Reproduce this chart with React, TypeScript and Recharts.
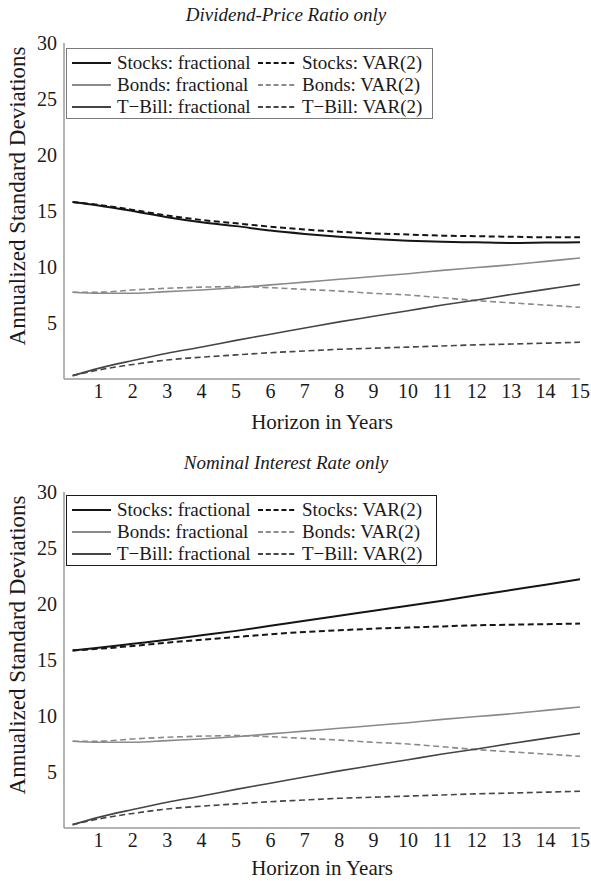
import React from 'react';
import { LineChart, Line, XAxis, YAxis, Label } from 'recharts';

const horizons = [0.25, 1, 2, 3, 4, 5, 6, 7, 8, 9, 10, 11, 12, 13, 14, 15];
const xTicks = [1, 2, 3, 4, 5, 6, 7, 8, 9, 10, 11, 12, 13, 14, 15];
const yTicks = [5, 10, 15, 20, 25, 30];

// Panel 1: Dividend-Price Ratio only
const dpStocksFrac = [15.8, 15.5, 15.0, 14.45, 14.0, 13.65, 13.25, 12.95, 12.7, 12.5, 12.35, 12.25, 12.2, 12.15, 12.18, 12.2];
const dpStocksVar = [15.8, 15.55, 15.1, 14.6, 14.2, 13.9, 13.6, 13.35, 13.15, 13.0, 12.9, 12.8, 12.75, 12.7, 12.65, 12.65];
// Panel 2: Nominal Interest Rate only
const nirStocksFrac = [15.85, 16.1, 16.45, 16.8, 17.2, 17.6, 18.05, 18.5, 18.95, 19.4, 19.85, 20.3, 20.78, 21.25, 21.72, 22.2];
const nirStocksVar = [15.85, 16.0, 16.25, 16.55, 16.8, 17.05, 17.3, 17.5, 17.65, 17.8, 17.9, 18.0, 18.1, 18.15, 18.2, 18.25];
// Shared (identical in both panels)
const bondsFrac = [7.75, 7.65, 7.65, 7.8, 7.95, 8.15, 8.4, 8.65, 8.9, 9.15, 9.4, 9.7, 9.95, 10.2, 10.5, 10.8];
const bondsVar = [7.75, 7.75, 7.95, 8.1, 8.2, 8.25, 8.15, 8.0, 7.85, 7.65, 7.5, 7.25, 7.0, 6.8, 6.6, 6.4];
const tbillFrac = [0.3, 0.95, 1.65, 2.3, 2.85, 3.45, 4.0, 4.55, 5.1, 5.6, 6.1, 6.6, 7.05, 7.55, 8.0, 8.45];
const tbillVar = [0.3, 0.8, 1.3, 1.7, 1.95, 2.15, 2.35, 2.5, 2.65, 2.75, 2.85, 2.95, 3.05, 3.12, 3.2, 3.28];

const seriesNames = {
  sf: 'Stocks: fractional',
  sv: 'Stocks: VAR(2)',
  bf: 'Bonds: fractional',
  bv: 'Bonds: VAR(2)',
  tf: 'T\u2212Bill: fractional',
  tv: 'T\u2212Bill: VAR(2)',
};

const SERIF = '"Liberation Serif", "Times New Roman", serif';
const DASH = '6 3.5';

const series = [
  { key: 'sf', color: '#151515', dash: undefined, width: 2 },
  { key: 'sv', color: '#151515', dash: DASH, width: 2 },
  { key: 'bf', color: '#8a8a8a', dash: undefined, width: 1.6 },
  { key: 'bv', color: '#8a8a8a', dash: DASH, width: 1.6 },
  { key: 'tf', color: '#454545', dash: undefined, width: 1.6 },
  { key: 'tv', color: '#454545', dash: DASH, width: 1.6 },
];

function buildData(stocksFrac: number[], stocksVar: number[]) {
  return horizons.map((h, i) => ({
    h,
    sf: stocksFrac[i],
    sv: stocksVar[i],
    bf: bondsFrac[i],
    bv: bondsVar[i],
    tf: tbillFrac[i],
    tv: tbillVar[i],
  }));
}

const legendRows = [
  ['sf', 'sv'],
  ['bf', 'bv'],
  ['tf', 'tv'],
];

function LegendBox({ left, top, width, height, border }: any) {
  const byKey: any = {};
  series.forEach((s) => (byKey[s.key] = s));
  const sample = (k: string) => {
    const s = byKey[k];
    return (
      <svg width={39} height={6} style={{ display: 'block' }}>
        <line x1={0} y1={3} x2={39} y2={3} stroke={s.color} strokeWidth={1.8} strokeDasharray={s.dash ? '5 2.8' : undefined} />
      </svg>
    );
  };
  return (
    <div
      style={{
        position: 'absolute',
        left,
        top,
        width,
        height,
        boxSizing: 'border-box',
        border: `1.5px solid ${border}`,
        background: '#fff',
        fontFamily: SERIF,
        fontSize: 19,
        color: '#1a1a1a',
      }}
    >
      {legendRows.map((row, r) => (
        <div key={r} style={{ position: 'absolute', top: 3 + r * 22, left: 0, height: 22, width: '100%' }}>
          {row.map((k, c) => (
            <div
              key={k}
              style={{
                position: 'absolute',
                left: c === 0 ? 5 : 191,
                top: 0,
                height: 22,
                display: 'flex',
                alignItems: 'center',
                whiteSpace: 'nowrap',
              }}
            >
              {sample(k)}
              <span style={{ marginLeft: c === 0 ? 6 : 5, lineHeight: '22px' }}>{(seriesNames as any)[k]}</span>
            </div>
          ))}
        </div>
      ))}
    </div>
  );
}

function Panel({ title, data, top, height, plotTop, xAxisHeight, legendTop, legendWidth, legendBorder, titleY, xLabelGap }: any) {
  const axisY = height - xAxisHeight;
  return (
    <div style={{ position: 'absolute', left: 0, top, width: 591, height }}>
      <div
        style={{
          position: 'absolute',
          left: 0,
          width: 572,
          top: titleY - 12,
          height: 24,
          lineHeight: '24px',
          textAlign: 'center',
          fontFamily: SERIF,
          fontStyle: 'italic',
          fontSize: 19,
          color: '#1a1a1a',
        }}
      >
        {title}
      </div>
      <LineChart
        width={591}
        height={height}
        data={data}
        margin={{ top: plotTop, right: 11, left: 0, bottom: 0 }}
        style={{ overflow: 'visible' }}
      >
        <XAxis
          dataKey="h"
          type="number"
          domain={[0, 15]}
          ticks={xTicks}
          height={xAxisHeight}
          tickLine={false}
          tickSize={4}
          tickMargin={1}
          axisLine={{ stroke: '#9a9a9a', strokeWidth: 1.5 }}
          tick={{ fill: '#1a1a1a', fontSize: 20, fontFamily: SERIF }}
          interval={0}
        >
          <Label
            content={({ viewBox }: any) => (
              <text
                x={viewBox.x + viewBox.width / 2}
                y={axisY + xLabelGap}
                textAnchor="middle"
                dominantBaseline="central"
                fontFamily={SERIF}
                fontSize={21}
                fill="#1a1a1a"
              >
                Horizon in Years
              </text>
            )}
          />
        </XAxis>
        <YAxis
          type="number"
          domain={[0, 30]}
          ticks={yTicks}
          width={64}
          tickLine={false}
          tickSize={4}
          tickMargin={3}
          axisLine={{ stroke: '#9a9a9a', strokeWidth: 1.5 }}
          tick={{ fill: '#1a1a1a', fontSize: 20, fontFamily: SERIF }}
          interval={0}
        >
          <Label
            content={() => (
              <text
                x={17}
                y={axisY - 183}
                textAnchor="middle"
                dominantBaseline="central"
                transform={`rotate(-90 17 ${axisY - 183})`}
                fontFamily={SERIF}
                fontSize={23}
                fill="#1a1a1a"
              >
                Annualized Standard Deviations
              </text>
            )}
          />
        </YAxis>
        {series.map((s) => (
          <Line
            key={s.key}
            dataKey={s.key}
            name={(seriesNames as any)[s.key]}
            type="monotone"
            stroke={s.color}
            strokeWidth={s.width}
            strokeDasharray={s.dash}
            dot={false}
            activeDot={false}
            isAnimationActive={false}
          />
        ))}
      </LineChart>
      <LegendBox left={66} top={legendTop} width={legendWidth} height={71} border={legendBorder} />
    </div>
  );
}

export default function App() {
  const dpData = buildData(dpStocksFrac, dpStocksVar);
  const nirData = buildData(nirStocksFrac, nirStocksVar);
  return (
    <div style={{ position: 'absolute', left: 0, top: 0, width: 591, height: 881, background: '#fff', overflow: 'hidden' }}>
      <Panel
        title="Dividend-Price Ratio only"
        data={dpData}
        top={0}
        height={440}
        plotTop={43}
        xAxisHeight={61}
        legendTop={48}
        legendWidth={367}
        legendBorder="#7a7a7a"
        titleY={15}
        xLabelGap={43}
      />
      <Panel
        title="Nominal Interest Rate only"
        data={nirData}
        top={440}
        height={441}
        plotTop={52}
        xAxisHeight={53}
        legendTop={55}
        legendWidth={371}
        legendBorder="#1a1a1a"
        titleY={23}
        xLabelGap={40}
      />
    </div>
  );
}
